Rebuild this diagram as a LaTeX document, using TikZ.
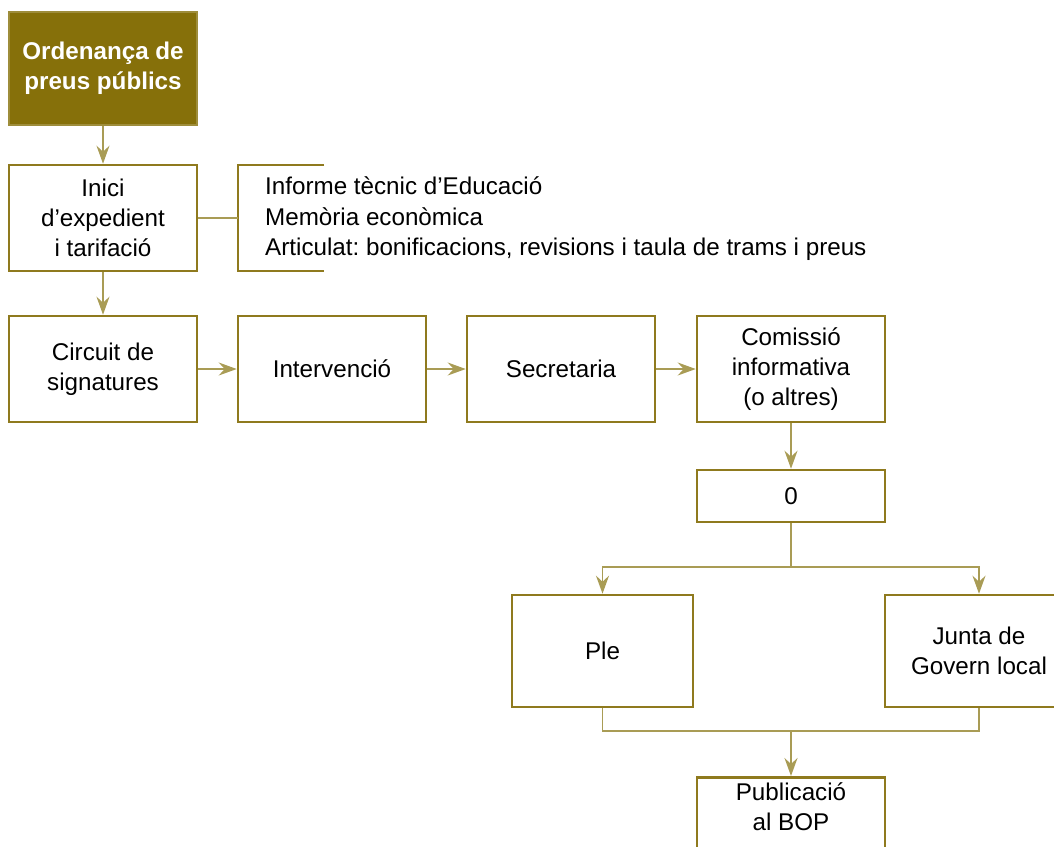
\documentclass[tikz,border=0pt]{standalone}
\usepackage{fontspec}
\setmainfont{Liberation Sans}
\usetikzlibrary{arrows.meta}
\definecolor{ordfill}{HTML}{86700A}
\definecolor{boxline}{HTML}{8F7A1E}
\definecolor{arrline}{HTML}{A99C55}
\frenchspacing
\tikzset{
 box/.style={draw=boxline, line width=2.6pt, fill=white, minimum width=188pt, minimum height=106pt, align=center, inner sep=0pt, font=\fontsize{24.2}{30}\selectfont},
 titlebox/.style={box, fill=ordfill, draw=ordfill!80!white, line width=1.5pt, minimum height=113pt, text=white, font=\fontsize{24.2}{30}\selectfont\bfseries},
 conn/.style={draw=arrline, line width=1.6pt},
}
\begin{document}
\begin{tikzpicture}[x=1pt, y=-1pt, >={Stealth[length=18pt,width=13pt,inset=6pt]}]
\useasboundingbox (0,0) rectangle (1054,846);
\clip (0,0) rectangle (1054,846);
% first column
\node[titlebox] (ord) at (103,68.5) {Ordenança de\\preus públics};
\node[box] (inici) at (103,218) {Inici\\d’expedient\\i tarifació};
\node[box] (circuit) at (103,369) {Circuit de\\signatures};
% row of signatures
\node[box] (interv) at (332,369) {Intervenció};
\node[box] (secret) at (561,369) {Secretaria};
\node[box] (comiss) at (791,369) {Comissió\\informativa\\(o altres)};
\node[box, minimum height=52pt] (zero) at (791,496) {0};
\node[box, minimum width=181pt, minimum height=112pt] (ple) at (602.5,651) {Ple};
\node[box, minimum height=112pt] (junta) at (979,651) {Junta de\\Govern local};
\node[box, anchor=north] (pub) at (791,776) {Publicació\\al BOP\\[18pt]\mbox{}};
% documents of the file
\node[align=left, anchor=west, inner sep=0pt, font=\fontsize{24.2}{30.5}\selectfont] (docs) at (265,219)
 {Informe tècnic d’Educació\\Memòria econòmica\\Articulat: bonificacions, revisions i taula de trams i preus};
\coordinate (brk) at (238,218);
\draw[boxline, line width=2.6pt] (324,165) -- (238,165) -- (238,271) -- (324,271);
% connectors
\draw[conn, ->] (ord) -- (inici);
\draw[conn] (inici) -- (brk);
\draw[conn, ->] (inici) -- (circuit);
\draw[conn, ->] (circuit) -- (interv);
\draw[conn, ->] (interv) -- (secret);
\draw[conn, ->] (secret) -- (comiss);
\draw[conn, ->] (comiss) -- (zero);
\coordinate (split) at (791,567);
\coordinate (merge) at (791,731);
\draw[conn] (zero) -- (split);
\draw[conn, ->] (split) -| (ple);
\draw[conn, ->] (split) -| (junta);
\draw[conn] (ple) |- (merge) -| (junta);
\draw[conn, ->] (merge) -- (pub);
\end{tikzpicture}
\end{document}
